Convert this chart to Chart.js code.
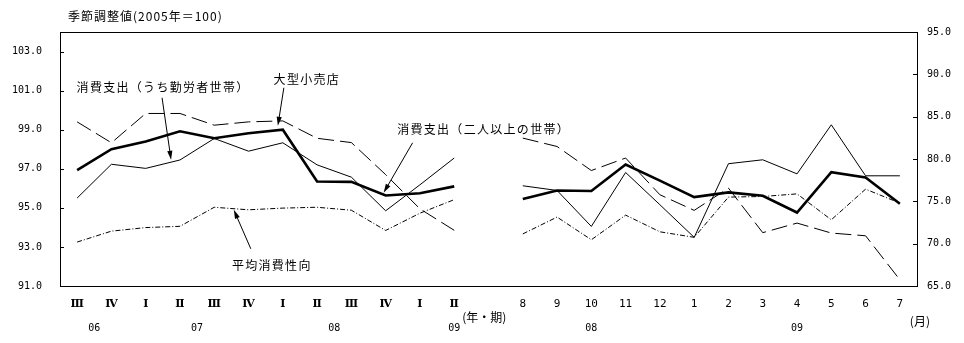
<!DOCTYPE html>
<html>
<head>
<meta charset="utf-8">
<script src="https://cdn.jsdelivr.net/npm/chart.js@4"></script>
<style>
html,body{margin:0;padding:0;background:#fff}
#wrap{width:964px;height:343px}
</style>
</head>
<body>
<div id="wrap"><canvas id="myChart" width="964" height="343"></canvas></div>
<script>
// categories
var quarterLabels = ['Ⅲ','Ⅳ','Ⅰ','Ⅱ','Ⅲ','Ⅳ','Ⅰ','Ⅱ','Ⅲ','Ⅳ','Ⅰ','Ⅱ']
var monthLabels = ['8','9','10','11','12','1','2','3','4','5','6','7']
var leftTicks = [91,93,95,97,99,101,103]
var rightTicks = [65,70,75,80,85,90,95]

// 消費支出（二人以上の世帯） - thick
var twoPlusQ = [96.93,98.0,98.39,98.92,98.56,98.82,99.0,96.35,96.33,95.63,95.75,96.1]
var twoPlusM = [95.45,95.89,95.86,97.22,96.39,95.55,95.79,95.62,94.76,96.83,96.56,95.21]
// 消費支出（うち勤労者世帯） - thin
var workersQ = [95.5,97.23,97.02,97.45,98.55,97.9,98.33,97.2,96.57,94.85,96.18,97.55]
var workersM = [96.13,95.89,94.05,96.81,95.16,93.49,97.26,97.46,96.74,99.25,96.64,96.64]
// 大型小売店 - long dash
var retailQ = [99.4,98.33,99.83,99.83,99.23,99.4,99.45,98.56,98.34,96.7,94.95,93.85]
var retailM = [98.57,98.14,96.91,97.55,95.67,94.87,96.01,93.73,94.22,93.71,93.57,91.32]
// 平均消費性向 (right axis) - dash dot
var apcQ = [70.19,71.48,71.9,72.05,74.3,74.0,74.2,74.3,73.95,71.56,73.6,75.2]
var apcM = [71.15,73.14,70.46,73.37,71.4,70.75,75.5,75.57,75.88,72.82,76.44,74.79]

var yearLabels = [
    {text:'06', from:0, to:1},
    {text:'07', from:2, to:5},
    {text:'08', from:6, to:9},
    {text:'09', from:11, to:11},
    {text:'08', from:13, to:17},
    {text:'09', from:18, to:24}
]

// text labels with arrows (tip anchored on the scales)
var notes = [
    {text:'消費支出（うち勤労者世帯）', axis:'yL', at:2.74, val:97.46, from:[-9,-62], label:[-8,-72]},
    {text:'大型小売店', axis:'yL', at:5.855, val:99.2, from:[6,-38], label:[29,-46]},
    {text:'消費支出（二人以上の世帯）', axis:'yL', at:8.94, val:95.77, from:[29,-50], label:[100,-63]},
    {text:'平均消費性向', axis:'yR', at:4.57, val:74.0, from:[17,39], label:[38,56]}
]

function join(q, m){
    return q.concat([null]).concat(m)
}

var labels = quarterLabels.concat(['']).concat(monthLabels)
var monoFont = {family:'"DejaVu Sans Mono", monospace', size:10}
var romanFont = {family:'"DejaVu Serif", serif', size:11, weight:'bold'}
var jpFont = '"Noto Sans CJK JP", sans-serif'

function arrow(ctx, x1, y1, x2, y2){
    var ang = Math.atan2(y2-y1, x2-x1)
    var len = 9, hw = 2.6
    ctx.beginPath()
    ctx.moveTo(x1, y1)
    ctx.lineTo(x2 - Math.cos(ang)*len*0.7, y2 - Math.sin(ang)*len*0.7)
    ctx.lineWidth = 1
    ctx.strokeStyle = '#000'
    ctx.stroke()
    ctx.beginPath()
    ctx.moveTo(x2, y2)
    ctx.lineTo(x2 - Math.cos(ang)*len - Math.sin(ang)*hw, y2 - Math.sin(ang)*len + Math.cos(ang)*hw)
    ctx.lineTo(x2 - Math.cos(ang)*len + Math.sin(ang)*hw, y2 - Math.sin(ang)*len - Math.cos(ang)*hw)
    ctx.closePath()
    ctx.fillStyle = '#000'
    ctx.fill()
}

var extras = {
    id:'extras',
    afterDraw:function(chart){
        var ctx = chart.ctx
        var a = chart.chartArea
        var x = chart.scales.x
        ctx.save()
        // frame
        ctx.strokeStyle = '#000'
        ctx.lineWidth = 1
        ctx.strokeRect(Math.round(a.left) + 0.5, Math.round(a.top) + 0.5, Math.round(a.right - a.left), Math.round(a.bottom - a.top))
        // inner tick marks
        ctx.beginPath()
        leftTicks.forEach(function(v){
            var y = Math.round(chart.scales.yL.getPixelForValue(v)) + 0.5
            ctx.moveTo(a.left, y); ctx.lineTo(a.left + 4, y)
        })
        rightTicks.forEach(function(v){
            var y = Math.round(chart.scales.yR.getPixelForValue(v)) + 0.5
            ctx.moveTo(a.right - 4, y); ctx.lineTo(a.right, y)
        })
        ctx.stroke()

        // year labels
        ctx.fillStyle = '#000'
        ctx.textAlign = 'center'
        ctx.textBaseline = 'middle'
        ctx.font = '10px "DejaVu Sans Mono", monospace'
        yearLabels.forEach(function(o){
            var cx = (x.getPixelForValue(o.from) + x.getPixelForValue(o.to)) / 2
            ctx.fillText(o.text, cx, 328)
        })

        // units
        ctx.font = '12px ' + jpFont
        ctx.textAlign = 'left'
        ctx.fillText('(年・期)', x.getPixelForValue(11) + 8, 317)
        ctx.fillText('(月)', x.getPixelForValue(24) + 10, 321)

        // title
        ctx.letterSpacing = '1px'
        ctx.fillText('季節調整値(2005年＝100)', 68, 16)

        // annotations
        ctx.letterSpacing = '1.3px'
        ctx.textAlign = 'center'
        notes.forEach(function(n){
            var tx = x.getPixelForValue(n.at)
            var ty = chart.scales[n.axis].getPixelForValue(n.val)
            arrow(ctx, tx + n.from[0], ty + n.from[1], tx, ty)
            ctx.fillStyle = '#000'
            ctx.fillText(n.text, tx + n.label[0], ty + n.label[1])
        })
        ctx.restore()
    }
}

var myChart = document.getElementById('myChart').getContext('2d')

var chart = new Chart(myChart, {
    type:'line',
    data:{
        labels:labels,
        datasets:[
            {
                label:'消費支出（二人以上の世帯）',
                data:join(twoPlusQ, twoPlusM),
                borderColor:'#000',
                borderWidth:2.6,
                yAxisID:'yL'
            },
            {
                label:'消費支出（うち勤労者世帯）',
                data:join(workersQ, workersM),
                borderColor:'#000',
                borderWidth:1,
                yAxisID:'yL'
            },
            {
                label:'大型小売店',
                data:join(retailQ, retailM),
                borderColor:'#000',
                borderWidth:1,
                borderDash:[16,6],
                yAxisID:'yL'
            },
            {
                label:'平均消費性向',
                data:join(apcQ, apcM),
                borderColor:'#000',
                borderWidth:1,
                borderDash:[5,2,1,2],
                yAxisID:'yR'
            }
        ]
    },
    options:{
        responsive:false,
        animation:false,
        devicePixelRatio:1,
        spanGaps:false,
        layout:{padding:{top:32}},
        elements:{point:{radius:0}, line:{tension:0}},
        plugins:{legend:{display:false}, tooltip:{enabled:false}},
        scales:{
            x:{
                offset:true,
                grid:{display:false, drawTicks:false},
                border:{display:false},
                ticks:{
                    color:'#000',
                    font:function(c){ return c.index < quarterLabels.length ? romanFont : {family:monoFont.family, size:11} },
                    padding:12, maxRotation:0, autoSkip:false
                },
                afterFit:function(s){ s.height = 57 }
            },
            yL:{
                position:'left',
                min:91,
                max:104,
                grid:{display:false, drawTicks:false},
                border:{display:false},
                ticks:{color:'#000', font:monoFont, padding:18, callback:function(v){ return v.toFixed(1) }},
                afterBuildTicks:function(s){ s.ticks = leftTicks.map(function(v){ return {value:v} }) },
                afterFit:function(s){ s.width = 60 }
            },
            yR:{
                position:'right',
                min:65,
                max:95,
                grid:{display:false, drawTicks:false},
                border:{display:false},
                ticks:{color:'#000', font:monoFont, padding:10, callback:function(v){ return v.toFixed(1) }},
                afterBuildTicks:function(s){ s.ticks = rightTicks.map(function(v){ return {value:v} }) },
                afterFit:function(s){ s.width = 47 }
            }
        }
    },
    plugins:[extras]
})
</script>
</body>
</html>
